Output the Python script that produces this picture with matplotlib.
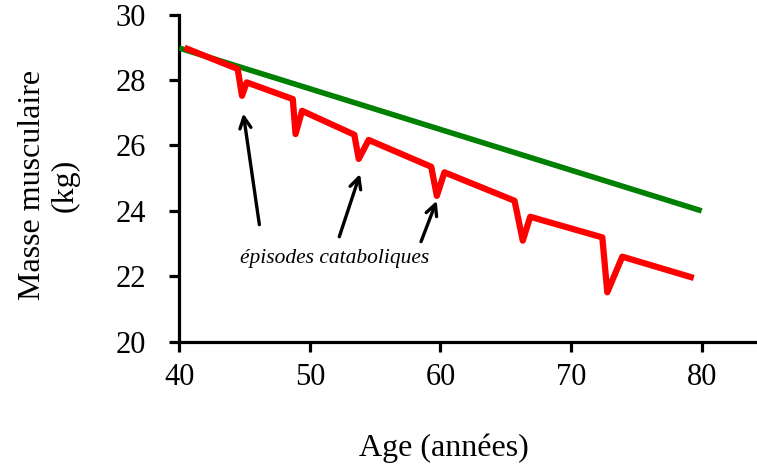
import matplotlib
matplotlib.use("Agg")
import matplotlib.pyplot as plt

# Data
age_green = [40, 80]
mass_green = [28.98, 24.0]

age_red = [40.4, 44.47, 44.8, 45.16, 48.69, 48.9, 49.4, 53.4, 53.74, 54.5,
           59.29, 59.72, 60.3, 65.67, 66.3, 66.87, 72.39, 72.77, 73.92, 79.39]
mass_red = [28.99, 28.34, 27.52, 27.93, 27.42, 26.35, 27.06, 26.33, 25.59, 26.17,
            25.35, 24.46, 25.18, 24.31, 23.09, 23.82, 23.19, 21.51, 22.6, 21.95]

x_ticks = [40, 50, 60, 70, 80]
y_ticks = [20, 22, 24, 26, 28, 30]

annot_text = "épisodes cataboliques"
annot_pos = (51.9, 22.53)
arrow_tails = [(46.13, 23.58), (52.25, 23.21), (58.51, 23.06)]
arrow_tips = [(44.90, 26.98), (53.84, 25.13), (59.71, 24.31)]

plt.rcParams['font.family'] = ['Liberation Serif', 'DejaVu Serif']

fig = plt.figure(figsize=(7.57, 4.66), dpi=100)
W, H = 757, 466
ax = fig.add_axes([179.3 / W, (H - 341.7) / H, (W - 179.3) / W, 327 / H])

ax.plot(age_green, mass_green, color='#008000', lw=4.0, solid_capstyle='butt', zorder=3)
ax.plot(age_red, mass_red, color='#FF0000', lw=4.5, solid_joinstyle='round',
        solid_capstyle='butt', zorder=4)

for tail, tip in zip(arrow_tails, arrow_tips):
    ax.annotate('', xy=tip, xytext=tail,
                arrowprops=dict(arrowstyle='->,head_length=0.8,head_width=0.4',
                                color='black', lw=2.4, shrinkA=0, shrinkB=0))

ax.text(annot_pos[0], annot_pos[1], annot_text, style='italic', fontsize=15.5,
        ha='center', va='center')

ax.set_xlim(40, 40 + (W - 179.3) / 13.06)
ax.set_ylim(20, 30)
ax.set_xticks(x_ticks)
ax.set_yticks(y_ticks)
ax.set_xticklabels([str(v) for v in x_ticks])
ax.set_yticklabels([str(v) for v in y_ticks])

for s in ['top', 'right']:
    ax.spines[s].set_visible(False)
for s in ['left', 'bottom']:
    ax.spines[s].set_linewidth(2.3)
    ax.spines[s].set_capstyle('projecting')

ax.tick_params(axis='both', direction='out', length=7, width=2.3, labelsize=22)
ax.tick_params(axis='y', pad=17)
ax.tick_params(axis='x', pad=8)

fig.text(49 / W, 1 - 185 / H, "Masse musculaire\n(kg)", rotation=90,
         ha='center', va='center', fontsize=23, multialignment='center',
         linespacing=1.15)
fig.text(444 / W, 1 - 448 / H, "Age (années)", ha='center', va='center', fontsize=23)

fig.savefig('out.png', dpi=100)
